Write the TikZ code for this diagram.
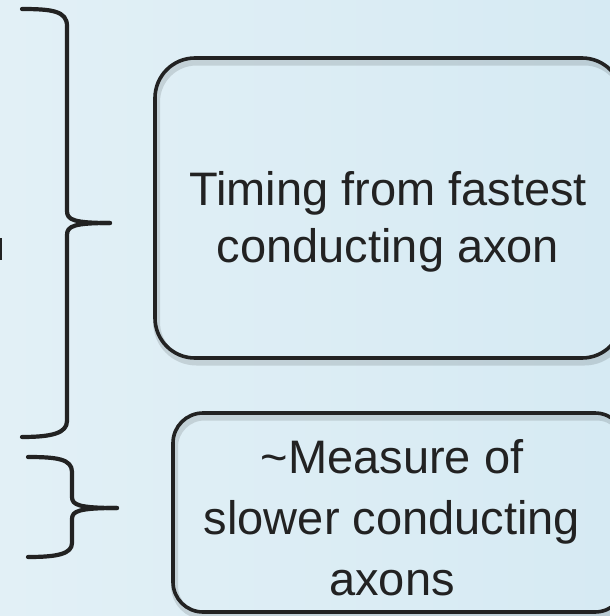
\documentclass[tikz,border=0pt]{standalone}
\usepackage{fontspec}
\setmainfont{Liberation Sans}
\definecolor{bgleft}{RGB}{226,240,246}
\definecolor{bgmid}{RGB}{240,247,250}
\definecolor{bgright}{RGB}{214,234,243}
\definecolor{ink}{RGB}{34,34,34}
\tikzset{
  brace/.style={draw=ink, line width=4.2pt, line cap=round, line join=round},
  box/.style={draw=ink, line width=3.6pt, rounded corners=#1, inner sep=0pt},
  boxshadow/.style={draw=black, draw opacity=0.12, line width=7pt, rounded corners=#1},
  label/.style={text=ink, font=\fontsize{47}{58}\selectfont, inner sep=0pt, anchor=base}
}
\begin{document}
\begin{tikzpicture}[x=1pt,y=-1pt]
  \useasboundingbox (0,0) rectangle (610,616);
  % background wash
  \shade[left color=bgleft, middle color=bgmid, right color=bgright] (0,0) rectangle (610,616);
  % clipped fragment at the left edge
  \fill[ink] (0,238) rectangle (2.2,260);

  % upper brace
  \coordinate (tipA) at (110,223);
  \draw[brace] (22,9) .. controls (52,9) and (67,11) .. (67,26) -- (67,211)
    .. controls (67,220) and (74,223) .. (tipA);
  \draw[brace] (tipA) .. controls (74,223) and (67,226) .. (67,235) -- (67,421)
    .. controls (67,433) and (52,437) .. (22,437);

  % lower brace
  \coordinate (tipB) at (117,508);
  \draw[brace] (28,457) .. controls (57,457) and (72,459) .. (72,472) -- (72,497)
    .. controls (72,505) and (79,508) .. (tipB);
  \draw[brace] (tipB) .. controls (79,508) and (72,511) .. (72,519) -- (72,543)
    .. controls (72,554) and (57,557) .. (28,557);

  % soft shadows under the boxes
  \draw[boxshadow=40pt] (156.5,62) rectangle (624.5,362);
  \draw[boxshadow=30pt] (174.5,417) rectangle (626.5,616);

  % boxes
  \node[box=40pt, minimum width=467pt, minimum height=300pt] (boxA) at (388.5,208) {};
  \node[box=30pt, minimum width=452pt, minimum height=199pt] (boxB) at (399,512.5) {};

  % box texts
  \node[label] (a1) at (388,205) {Timing from fastest};
  \node[label] (a2) at (388,262) {conducting axon};
  \node[label] (b1) at (392,473) {\textasciitilde Measure of};
  \node[label] (b2) at (392,534) {slower conducting};
  \node[label] (b3) at (392,595) {axons};
\end{tikzpicture}
\end{document}
